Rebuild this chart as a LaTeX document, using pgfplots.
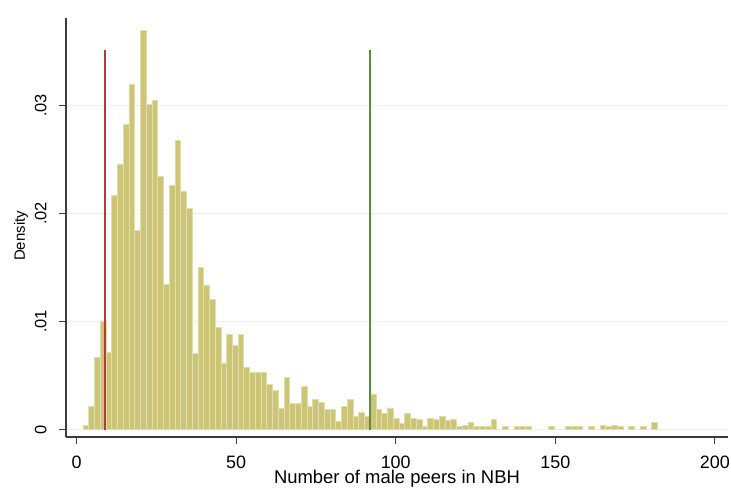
\documentclass[border=0pt]{standalone}
\usepackage{pgfplots}
\pgfplotsset{compat=1.18}
\usepackage{pgfplotstable}
\usepackage{fontspec}
\setmainfont{Liberation Sans}
\definecolor{barfill}{RGB}{204,197,120}
\definecolor{baredge}{RGB}{226,222,170}
\definecolor{gridcol}{RGB}{232,238,244}
\definecolor{redline}{RGB}{185,55,60}
\definecolor{greenline}{RGB}{95,140,55}
\definecolor{axiscol}{RGB}{60,60,60}

\pgfplotstableread{
x y
2.9 0.00039
4.7 0.00211
6.5 0.00668
8.3 0.01005
10.1 0.00711
11.9 0.02165
13.7 0.02460
15.5 0.02826
17.3 0.03200
19.1 0.01847
20.9 0.03693
22.7 0.03007
24.5 0.03050
26.3 0.02340
28.1 0.01344
29.9 0.02261
31.7 0.02678
33.5 0.02208
35.3 0.02048
37.1 0.00705
38.9 0.01498
40.7 0.01338
42.5 0.01202
44.3 0.00949
46.1 0.00616
47.9 0.00881
49.7 0.00776
51.5 0.00881
53.3 0.00576
55.1 0.00532
56.9 0.00532
58.7 0.00532
60.5 0.00415
62.3 0.00363
64.1 0.00199
65.9 0.00483
67.7 0.00239
69.5 0.00239
71.3 0.00400
73.1 0.00215
74.9 0.00280
76.7 0.00252
78.5 0.00184
80.3 0.00184
82.1 0.00079
83.9 0.00215
85.7 0.00280
87.5 0.00119
89.3 0.00162
91.1 0.00122
92.9 0.00326
94.7 0.00187
96.5 0.00150
98.3 0.00200
100.1 0.00104
101.9 0.00060
103.7 0.00150
105.5 0.00105
107.3 0.00090
109.1 0.00026
110.9 0.00100
112.7 0.00090
114.5 0.00120
116.3 0.00085
118.1 0.00090
119.9 0.00026
121.7 0.00040
123.5 0.00070
125.3 0.00030
127.1 0.00026
128.9 0.00026
130.7 0.00090
134.3 0.00030
137.9 0.00030
139.7 0.00030
141.5 0.00030
148.7 0.00030
154.1 0.00030
155.9 0.00030
157.7 0.00030
161.3 0.00030
164.9 0.00040
166.7 0.00030
168.5 0.00040
170.3 0.00030
173.9 0.00030
177.5 0.00030
181.1 0.00067
}\histdata

\begin{document}
\begin{tikzpicture}
\path[use as bounding box] (0,0) rectangle (731bp,491bp);
\begin{axis}[
  at={(66bp,54bp)}, anchor=south west,
  scale only axis, width=662bp, height=419bp,
  xmin=-3.3, xmax=204.1, ymin=-0.000694, ymax=0.0381,
  axis lines=left,
  axis line style={-, draw=axiscol, line width=1.1bp},
  tick align=outside, major tick length=7bp,
  tick style={draw=axiscol, line width=1.1bp},
  xtick={0,50,100,150,200}, xticklabels={0,50,100,150,200},
  ytick={0,0.01,0.02,0.03}, yticklabels={0,.01,.02,.03},
  scaled y ticks=false,
  ymajorgrids, major grid style={draw=gridcol, line width=1bp},
  xticklabel style={font=\fontsize{18}{18}\selectfont, text=black},
  yticklabel style={font=\fontsize{16.5}{16.5}\selectfont, rotate=90, anchor=south, text=black},
  yticklabel shift=9bp,
  xticklabel shift=8bp,
  xlabel={Number of male peers in NBH},
  ylabel={Density},
  xlabel style={font=\fontsize{18.5}{18.5}\selectfont, yshift=5bp},
  ylabel style={font=\fontsize{15}{15}\selectfont, at={(ticklabel cs:0.48)}},
]
\addplot[ybar, bar width=1.8, bar shift=0pt, fill=barfill, draw=baredge, line width=0.6bp] table {\histdata};
\addplot[redline, line width=1.6bp] coordinates {(9,0) (9,0.0351)};
\addplot[greenline, line width=1.6bp] coordinates {(92,0) (92,0.0351)};
\end{axis}
\end{tikzpicture}
\end{document}
